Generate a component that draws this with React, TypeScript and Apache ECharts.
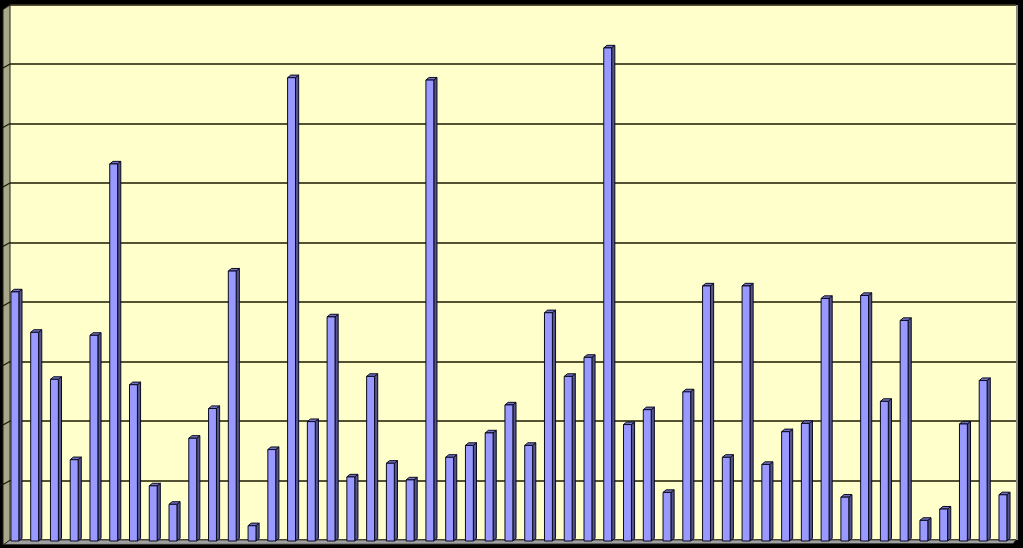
import React, { useEffect, useRef } from "react";
import * as echarts from "echarts";

const categories: string[] = Array.from({ length: 51 }, (_, i) => String(i + 1));
const values: number[] = [
  4.17, 3.49, 2.7, 1.35, 3.44, 6.32, 2.61, 0.91, 0.6, 1.71,
  2.21, 4.52, 0.24, 1.52, 7.77, 1.99, 3.75, 1.06, 2.75, 1.29,
  1.01, 7.73, 1.39, 1.59, 1.8, 2.27, 1.59, 3.82, 2.75, 3.07,
  8.27, 1.94, 2.19, 0.8, 2.49, 4.27, 1.39, 4.27, 1.27, 1.82,
  1.96, 4.06, 0.72, 4.11, 2.33, 3.69, 0.33, 0.52, 1.95, 2.68,
  0.76,
];
const gridTicks: number[] = [1, 2, 3, 4, 5, 6, 7, 8];

export default function App() {
  const ref = useRef<HTMLDivElement>(null);
  useEffect(() => {
    if (!ref.current) return;
    const chart = echarts.init(ref.current, null, { renderer: "svg" });
    const option: any = {
      animation: false,
      backgroundColor: "#000000",
      grid: [
        { left: 6, right: 9.2, top: 4.5, bottom: 8, containLabel: false },
        {
          left: 10, right: 7, top: 4.5, bottom: 8, show: true,
          backgroundColor: "#FFFFCC", borderWidth: 0,
        },
      ],
      xAxis: [
        {
          type: "category", gridIndex: 0, data: categories, boundaryGap: true,
          axisLine: { show: false }, axisTick: { show: false }, axisLabel: { show: false },
          splitLine: { show: false },
        },
        {
          type: "value", gridIndex: 1, min: 0, max: 1,
          axisLine: { show: false }, axisTick: { show: false }, axisLabel: { show: false },
          splitLine: { show: false },
        },
      ],
      yAxis: [
        {
          type: "value", gridIndex: 0, min: 0, max: 9, interval: 1,
          axisLine: { show: false }, axisTick: { show: false }, axisLabel: { show: false },
          splitLine: { show: false },
        },
        {
          type: "value", gridIndex: 1, min: 0, max: 9, interval: 1,
          axisLine: { show: false }, axisTick: { show: false }, axisLabel: { show: false },
          splitLine: { show: true, lineStyle: { color: "#1a1a00", width: 1.6 } },
        },
      ],
      series: [
        {
          type: "custom",
          xAxisIndex: 1,
          yAxisIndex: 1,
          z: 5,
          data: gridTicks.map((t) => [0, t]),
          renderItem: (params: any, api: any) => {
            const p = api.coord([0, api.value(1)]);
            return {
              type: "group",
              children: [
                {
                  type: "polygon",
                  shape: { points: [[p[0] - 7, p[1] + 4], [p[0], p[1]]] },
                  style: { fill: "none", stroke: "#1a1a00", lineWidth: 1.4 },
                },
              ],
            };
          },
        },
        {
          type: "custom",
          xAxisIndex: 0,
          yAxisIndex: 0,
          z: 3,
          data: values.map((v, i) => [i, v]),
          renderItem: (params: any, api: any) => {
            const idx = api.value(0);
            const v = api.value(1);
            const base = api.coord([idx, 0]);
            const top = api.coord([idx, v]);
            const bw = api.size([1, 0])[0];
            const cx = base[0];
            const fl = cx - bw * 0.25;
            const fr = cx + bw * 0.15;
            const dx = bw * 0.16;
            const dy = 2.6;
            const yb = base[1] + 1;
            const yt = top[1];
            return {
              type: "group",
              children: [
                {
                  type: "polygon",
                  shape: { points: [[fr, yt], [fr + dx, yt - dy], [fr + dx, yb - dy], [fr, yb]] },
                  style: { fill: "#55558C", stroke: "#0a0a20", lineWidth: 1 },
                },
                {
                  type: "polygon",
                  shape: { points: [[fl, yt], [fl + dx, yt - dy], [fr + dx, yt - dy], [fr, yt]] },
                  style: { fill: "#7373C0", stroke: "#0a0a20", lineWidth: 1 },
                },
                {
                  type: "rect",
                  shape: { x: fl, y: yt, width: fr - fl, height: yb - yt },
                  style: { fill: "#9999FF", stroke: "#0a0a20", lineWidth: 1 },
                },
              ],
            };
          },
        },
      ],
      graphic: [
        {
          type: "polygon",
          z: 1,
          shape: { points: [[10, 540], [1016, 540], [1013, 543.5], [3, 544.5]] },
          style: { fill: "#A0A0A0", stroke: "#303030", lineWidth: 0.8 },
        },
        {
          type: "polygon",
          z: 4,
          shape: { points: [[3, 9.5], [10, 5], [10, 540], [3, 545]] },
          style: { fill: "#A8A888", stroke: "#202020", lineWidth: 1 },
        },
        {
          type: "rect",
          z: 4,
          shape: { x: 1016, y: 5, width: 2, height: 535 },
          style: { fill: "#8A8A80" },
        },
      ],
    };
    chart.setOption(option);
    return () => chart.dispose();
  }, []);
  return (
    <div
      ref={ref}
      style={{ position: "absolute", left: 0, top: 0, width: 1023, height: 548 }}
    />
  );
}
